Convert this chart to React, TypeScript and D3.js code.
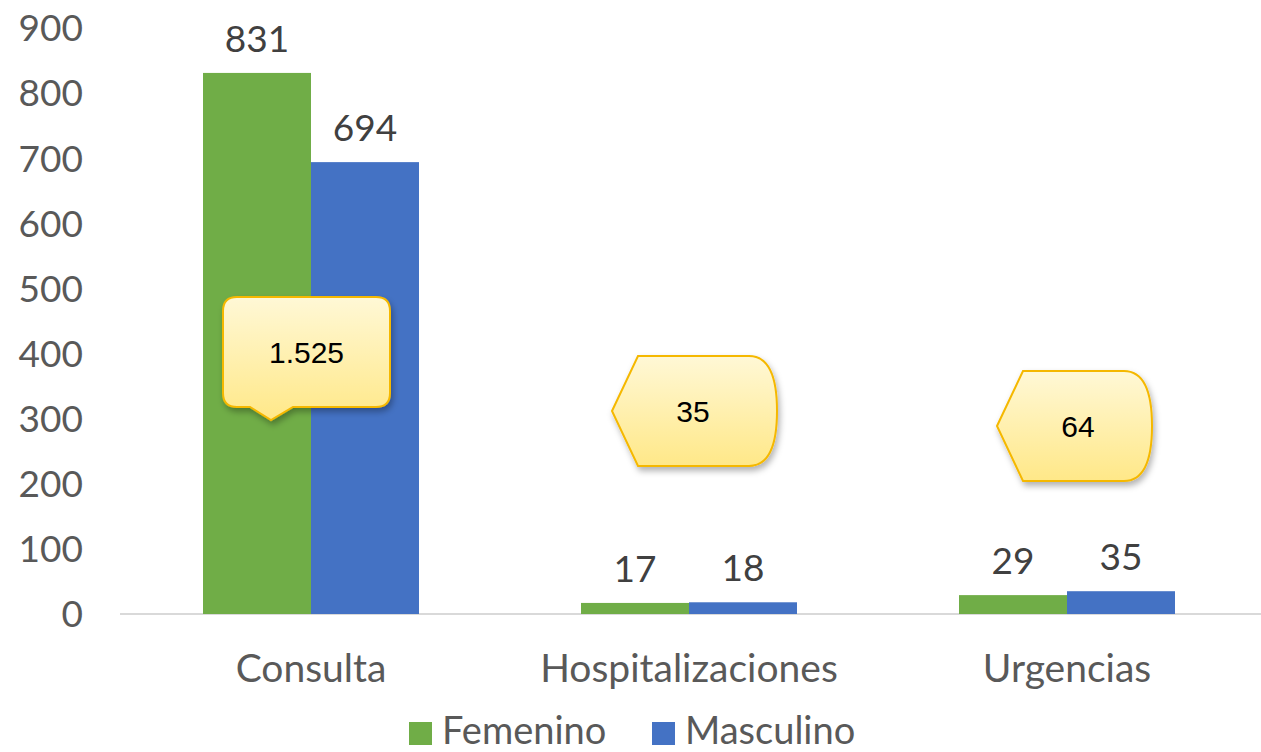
import React, { useEffect, useRef } from 'react';
import * as d3 from 'd3';

const categories = ['Consulta', 'Hospitalizaciones', 'Urgencias'];
const seriesNames = ['Femenino', 'Masculino'];
const femenino = [831, 17, 29];
const masculino = [694, 18, 35];
const totals = ['1.525', '35', '64'];
const yTicks = [0, 100, 200, 300, 400, 500, 600, 700, 800, 900];

const colors = ['#70ad47', '#4472c4'];

const App = () => {
  const ref = useRef<SVGSVGElement>(null);

  useEffect(() => {
    const svg = d3.select(ref.current);
    svg.selectAll('*').remove();

    const width = 1261;
    const height = 752;
    const font = 'Lato, "Noto Sans", sans-serif';
    const calloutFont = '"Liberation Sans", Arial, sans-serif';

    const x = d3.scaleBand()
      .domain(categories)
      .range([122, 1256])
      .paddingInner(0.4286)
      .paddingOuter(0.2143);

    const xs = d3.scaleBand()
      .domain(seriesNames)
      .range([0, x.bandwidth()]);

    const y = d3.scaleLinear().domain([0, 900]).range([614, 28]);

    // defs: gradient + shadow for the callouts
    const defs = svg.append('defs');
    const grad = defs.append('linearGradient')
      .attr('id', 'callGrad')
      .attr('x1', 0).attr('y1', 0).attr('x2', 0).attr('y2', 1);
    grad.append('stop').attr('offset', '0%').attr('stop-color', '#fff8d6');
    grad.append('stop').attr('offset', '100%').attr('stop-color', '#ffe888');
    const filt = defs.append('filter').attr('id', 'shadow')
      .attr('x', '-20%').attr('y', '-20%').attr('width', '150%').attr('height', '150%');
    filt.append('feDropShadow')
      .attr('dx', 2).attr('dy', 4).attr('stdDeviation', 3)
      .attr('flood-color', '#000').attr('flood-opacity', 0.3);

    svg.append('rect').attr('width', width).attr('height', height).attr('fill', '#ffffff');

    // y tick labels
    svg.append('g')
      .selectAll('text')
      .data(yTicks)
      .enter().append('text')
      .attr('x', 83)
      .attr('y', d => y(d))
      .attr('dy', '0.36em')
      .attr('text-anchor', 'end')
      .attr('font-family', font)
      .attr('font-size', 37)
      .attr('fill', '#595959')
      .text(d => d);

    // baseline
    svg.append('line')
      .attr('x1', 120).attr('x2', 1261)
      .attr('y1', y(0)).attr('y2', y(0))
      .attr('stroke', '#d9d9d9').attr('stroke-width', 2);

    const rows = categories.map((c, i) => ({ cat: c, vals: [femenino[i], masculino[i]] }));

    const groups = svg.append('g')
      .selectAll('g')
      .data(rows)
      .enter().append('g')
      .attr('transform', d => `translate(${x(d.cat)},0)`);

    groups.selectAll('rect')
      .data(d => d.vals.map((v, j) => ({ v, s: seriesNames[j], j })))
      .enter().append('rect')
      .attr('x', d => xs(d.s)!)
      .attr('y', d => y(d.v))
      .attr('width', xs.bandwidth())
      .attr('height', d => y(0) - y(d.v))
      .attr('fill', d => colors[d.j]);

    groups.selectAll('text.val')
      .data(d => d.vals.map((v, j) => ({ v, s: seriesNames[j] })))
      .enter().append('text')
      .attr('class', 'val')
      .attr('x', d => xs(d.s)! + xs.bandwidth() / 2)
      .attr('y', d => y(d.v) - 21)
      .attr('text-anchor', 'middle')
      .attr('font-family', font)
      .attr('font-size', 37)
      .attr('fill', '#404040')
      .text(d => d.v);

    // category labels
    svg.append('g')
      .selectAll('text')
      .data(categories)
      .enter().append('text')
      .attr('x', d => x(d)! + x.bandwidth() / 2)
      .attr('y', 682)
      .attr('text-anchor', 'middle')
      .attr('font-family', font)
      .attr('font-size', 39)
      .attr('fill', '#595959')
      .text(d => d);

    // callouts with totals
    const call = svg.append('g');
    // Consulta: rounded rectangle callout pointing down
    {
      const cx = x(categories[0])! + x.bandwidth() / 2;
      const l = cx - 88, r = cx + 79, t = 297, b = 407, rr = 14;
      const p = d3.path();
      p.moveTo(l + rr, t);
      p.lineTo(r - rr, t);
      p.quadraticCurveTo(r, t, r, t + rr);
      p.lineTo(r, b - rr);
      p.quadraticCurveTo(r, b, r - rr, b);
      p.lineTo(l + 70, b);
      p.lineTo(l + 48, b + 13);
      p.lineTo(l + 27, b);
      p.lineTo(l + rr, b);
      p.quadraticCurveTo(l, b, l, b - rr);
      p.lineTo(l, t + rr);
      p.quadraticCurveTo(l, t, l + rr, t);
      p.closePath();
      call.append('path')
        .attr('d', p.toString())
        .attr('fill', 'url(#callGrad)')
        .attr('stroke', '#f5b800').attr('stroke-width', 2)
        .attr('filter', 'url(#shadow)');
      call.append('text')
        .attr('x', (l + r) / 2).attr('y', (t + b) / 2)
        .attr('dy', '0.36em')
        .attr('text-anchor', 'middle')
        .attr('font-family', calloutFont)
        .attr('font-size', 30)
        .attr('fill', '#000')
        .text(totals[0]);
    }

    // Hospitalizaciones and Urgencias: display-shaped callouts
    const displays = [
      { i: 1, dl: -77, dr: 88, t: 356, b: 466 },
      { i: 2, dl: -70, dr: 85, t: 371, b: 481 }
    ];
    displays.forEach(dd => {
      const cx = x(categories[dd.i])! + x.bandwidth() / 2;
      const l = cx + dd.dl, r = cx + dd.dr;
      const t = dd.t, b = dd.b, m = (t + b) / 2;
      const p = d3.path();
      p.moveTo(l, m);
      p.lineTo(l + 26, t);
      p.lineTo(r - 28, t);
      p.bezierCurveTo(r - 6, t, r, m - 30, r, m);
      p.bezierCurveTo(r, m + 30, r - 6, b, r - 28, b);
      p.lineTo(l + 26, b);
      p.closePath();
      call.append('path')
        .attr('d', p.toString())
        .attr('fill', 'url(#callGrad)')
        .attr('stroke', '#f5b800').attr('stroke-width', 2)
        .attr('filter', 'url(#shadow)');
      call.append('text')
        .attr('x', l + 81).attr('y', m)
        .attr('dy', '0.36em')
        .attr('text-anchor', 'middle')
        .attr('font-family', calloutFont)
        .attr('font-size', 30)
        .attr('fill', '#000')
        .text(totals[dd.i]);
    });

    // legend
    const legend = svg.append('g');
    const legendX = [409, 652];
    seriesNames.forEach((s, i) => {
      legend.append('rect')
        .attr('x', legendX[i]).attr('y', 722)
        .attr('width', 23).attr('height', 23)
        .attr('fill', colors[i]);
      legend.append('text')
        .attr('x', legendX[i] + 33).attr('y', 744)
        .attr('font-family', font)
        .attr('font-size', 38)
        .attr('fill', '#595959')
        .text(s);
    });
  }, []);

  return (
    <div style={{ position: 'fixed', left: 0, top: 0 }}>
      <svg ref={ref} width={1261} height={752} style={{ display: 'block' }} />
    </div>
  );
};

export default App;
